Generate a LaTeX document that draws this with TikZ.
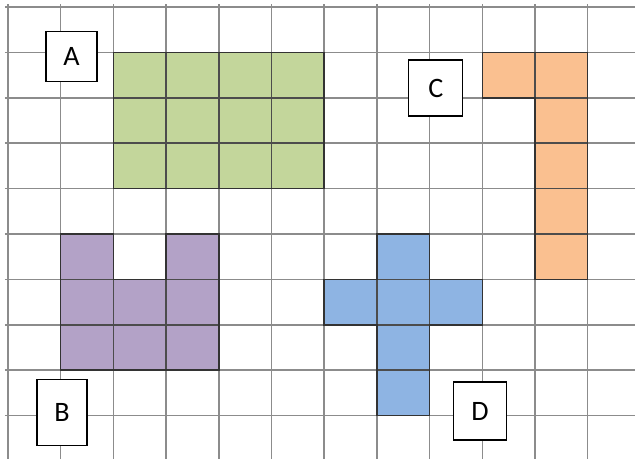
\documentclass[tikz,border=0pt]{standalone}
\usepackage{fontspec}
\setmainfont{Carlito}
\usetikzlibrary{positioning}

\definecolor{greenfill}{RGB}{195,214,155}
\definecolor{orangefill}{RGB}{250,192,144}
\definecolor{purplefill}{RGB}{179,162,199}
\definecolor{bluefill}{RGB}{142,180,227}

\begin{document}
\begin{tikzpicture}[
    x=1.3175cm, y=1.135cm,
    gridline/.style={draw=black!45, line width=1.1pt},
    innerline/.style={draw=black!70, line width=1.1pt, xstep=1.3175cm, ystep=1.135cm},
    tile/.style={draw=black!80, line width=1.1pt},
    lettertag/.style={draw, fill=white, line width=0.8pt, inner sep=0pt, font=\fontsize{20}{24}\selectfont}
]
\useasboundingbox (-0.152,0.044) rectangle (11.898,10.154);

% coloured shapes
\fill[greenfill] (2,6) rectangle (6,9);
\fill[orangefill] (9,9) -- (11,9) -- (11,4) -- (10,4) -- (10,8) -- (9,8) -- cycle;
\fill[purplefill] (1,5) -- (2,5) -- (2,4) -- (3,4) -- (3,5) -- (4,5) -- (4,2) -- (1,2) -- cycle;
\fill[bluefill] (7,5) -- (8,5) -- (8,4) -- (9,4) -- (9,3) -- (8,3) -- (8,1) -- (7,1) -- (7,3) -- (6,3) -- (6,4) -- (7,4) -- cycle;

% grid
\foreach \i in {0,...,11}
    \draw[gridline] (\i,0.044) -- (\i,10.06);
\foreach \j in {1,...,10}
    \draw[gridline] (-0.06,\j) -- (11.898,\j);

% darker lines inside the shapes
\begin{scope}
    \clip (2,6) rectangle (6,9);
    \draw[innerline] (0,0) grid (11,10);
\end{scope}
\begin{scope}
    \clip (9,9) -- (11,9) -- (11,4) -- (10,4) -- (10,8) -- (9,8) -- cycle;
    \draw[innerline] (0,0) grid (11,10);
\end{scope}
\begin{scope}
    \clip (1,5) -- (2,5) -- (2,4) -- (3,4) -- (3,5) -- (4,5) -- (4,2) -- (1,2) -- cycle;
    \draw[innerline] (0,0) grid (11,10);
\end{scope}
\begin{scope}
    \clip (7,5) -- (8,5) -- (8,4) -- (9,4) -- (9,3) -- (8,3) -- (8,1) -- (7,1) -- (7,3) -- (6,3) -- (6,4) -- (7,4) -- cycle;
    \draw[innerline] (0,0) grid (11,10);
\end{scope}

% outlines
\draw[tile] (2,6) rectangle (6,9);
\draw[tile] (9,9) -- (11,9) -- (11,4) -- (10,4) -- (10,8) -- (9,8) -- cycle;
\draw[tile] (1,5) -- (2,5) -- (2,4) -- (3,4) -- (3,5) -- (4,5) -- (4,2) -- (1,2) -- cycle;
\draw[tile] (7,5) -- (8,5) -- (8,4) -- (9,4) -- (9,3) -- (8,3) -- (8,1) -- (7,1) -- (7,3) -- (6,3) -- (6,4) -- (7,4) -- cycle;

% letters
\node[lettertag, minimum width=1.275cm, minimum height=1.25cm] (A) at (1.205,8.90) {A};
\node[lettertag, minimum width=1.35cm, minimum height=1.4cm] (C) at (8.12,8.216) {C};
\node[lettertag, minimum width=1.25cm, minimum height=1.65cm] (B) at (1.025,1.06) {B};
\node[lettertag, minimum width=1.325cm, minimum height=1.45cm] (D) at (8.956,1.10) {D};
\end{tikzpicture}
\end{document}
